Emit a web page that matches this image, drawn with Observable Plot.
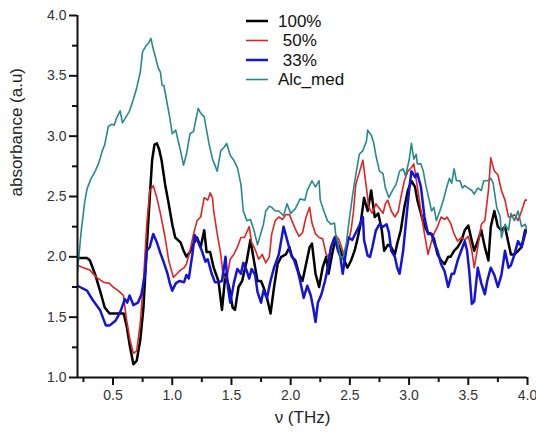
<!DOCTYPE html>
<html>
<head>
<meta charset="utf-8">
<script src="https://cdn.jsdelivr.net/npm/d3@7"></script>
<script src="https://cdn.jsdelivr.net/npm/@observablehq/plot@0.6"></script>
<style>
  html, body { margin: 0; padding: 0; background: #fff; }
  #chart { width: 536px; height: 437px; }
</style>
</head>
<body>
<div id="chart"></div>
<script>
// Absorbance spectra, [frequency (THz), absorbance (a.u.)]
const conc100 = [[0.2,1.99],[0.28,1.99],[0.305,1.97],[0.347,1.86],[0.39,1.72],[0.43,1.58],[0.47,1.53],[0.52,1.53],[0.56,1.53],[0.59,1.53],[0.616,1.42],[0.644,1.25],[0.672,1.11],[0.70,1.14],[0.73,1.31],[0.757,1.58],[0.785,2.08],[0.81,2.49],[0.83,2.80],[0.85,2.93],[0.87,2.94],[0.89,2.89],[0.91,2.80],[0.94,2.60],[0.97,2.44],[1.0,2.27],[1.025,2.16],[1.07,2.12],[1.096,2.05],[1.12,2.0],[1.15,2.04],[1.18,2.11],[1.21,2.16],[1.24,2.08],[1.27,2.22],[1.29,2.04],[1.32,2.04],[1.35,1.91],[1.39,1.80],[1.42,1.56],[1.45,1.86],[1.48,1.75],[1.51,1.58],[1.53,1.56],[1.56,1.75],[1.59,1.80],[1.63,1.97],[1.66,2.14],[1.69,1.97],[1.72,1.80],[1.75,1.80],[1.77,1.75],[1.80,1.66],[1.83,1.53],[1.86,1.75],[1.89,1.94],[1.92,2.0],[1.96,2.02],[1.99,2.08],[2.01,2.0],[2.04,1.97],[2.07,1.86],[2.10,1.80],[2.13,1.94],[2.16,2.08],[2.18,2.11],[2.21,1.86],[2.24,1.75],[2.27,1.91],[2.30,2.0],[2.32,1.86],[2.35,2.02],[2.38,2.16],[2.41,2.08],[2.44,2.0],[2.48,1.91],[2.51,1.97],[2.54,2.05],[2.56,2.13],[2.59,2.27],[2.62,2.49],[2.65,2.38],[2.68,2.55],[2.71,2.33],[2.74,2.36],[2.77,2.22],[2.79,2.05],[2.82,2.10],[2.85,2.08],[2.88,2.02],[2.90,2.11],[2.93,2.22],[2.96,2.41],[2.99,2.55],[3.02,2.63],[3.05,2.58],[3.07,2.47],[3.10,2.36],[3.13,2.25],[3.16,2.20],[3.19,2.19],[3.21,2.15],[3.24,2.02],[3.27,1.97],[3.30,1.94],[3.33,2.0],[3.35,2.0],[3.38,2.05],[3.41,2.08],[3.44,2.13],[3.47,2.22],[3.50,2.26],[3.53,2.13],[3.55,2.05],[3.58,2.13],[3.61,2.22],[3.64,2.08],[3.67,1.97],[3.69,2.25],[3.72,2.38],[3.75,2.25],[3.78,2.22],[3.81,2.25],[3.84,2.11],[3.86,2.02],[3.89,2.02],[3.92,2.05],[3.95,2.08],[3.98,2.22],[4.0,2.22]];

const conc50 = [[0.2,1.93],[0.25,1.91],[0.305,1.89],[0.36,1.83],[0.42,1.79],[0.47,1.78],[0.50,1.75],[0.544,1.72],[0.587,1.68],[0.616,1.47],[0.644,1.31],[0.672,1.20],[0.70,1.22],[0.73,1.45],[0.757,1.80],[0.785,2.27],[0.81,2.55],[0.84,2.59],[0.87,2.49],[0.90,2.36],[0.94,2.16],[0.97,1.97],[1.01,1.83],[1.04,1.86],[1.07,1.89],[1.10,1.91],[1.12,1.94],[1.15,2.05],[1.18,2.19],[1.21,2.30],[1.24,2.33],[1.27,2.49],[1.30,2.47],[1.32,2.53],[1.34,2.49],[1.35,2.38],[1.38,2.19],[1.41,2.02],[1.43,1.84],[1.46,1.82],[1.49,1.98],[1.52,2.02],[1.55,2.08],[1.58,2.16],[1.61,2.16],[1.65,2.25],[1.67,2.12],[1.70,2.06],[1.73,1.98],[1.76,2.02],[1.79,1.95],[1.82,2.0],[1.84,2.19],[1.87,2.30],[1.90,2.33],[1.93,2.31],[1.96,2.35],[1.99,2.35],[2.01,2.30],[2.04,2.23],[2.07,2.17],[2.10,2.20],[2.13,2.33],[2.16,2.41],[2.18,2.28],[2.21,2.19],[2.24,2.16],[2.27,2.15],[2.30,2.02],[2.32,2.0],[2.35,2.10],[2.38,2.18],[2.41,2.14],[2.45,2.02],[2.48,2.10],[2.51,2.22],[2.53,2.37],[2.55,2.60],[2.58,2.70],[2.61,2.80],[2.64,2.57],[2.66,2.41],[2.69,2.36],[2.72,2.44],[2.75,2.40],[2.78,2.36],[2.80,2.44],[2.82,2.47],[2.85,2.38],[2.88,2.33],[2.91,2.38],[2.93,2.49],[2.96,2.63],[2.99,2.71],[3.02,2.74],[3.04,2.77],[3.07,2.58],[3.10,2.38],[3.13,2.19],[3.16,2.02],[3.19,2.13],[3.21,2.19],[3.24,2.25],[3.27,2.33],[3.30,2.31],[3.32,2.33],[3.35,2.28],[3.38,2.19],[3.41,2.13],[3.44,2.16],[3.47,2.14],[3.50,2.17],[3.53,2.05],[3.55,1.91],[3.58,2.08],[3.61,2.27],[3.64,2.30],[3.67,2.55],[3.69,2.82],[3.72,2.71],[3.75,2.68],[3.78,2.55],[3.81,2.47],[3.84,2.33],[3.86,2.33],[3.89,2.35],[3.92,2.30],[3.95,2.38],[3.98,2.47],[4.0,2.47]];

const conc33 = [[0.2,1.76],[0.22,1.75],[0.28,1.72],[0.33,1.64],[0.39,1.56],[0.44,1.43],[0.47,1.43],[0.52,1.47],[0.56,1.54],[0.60,1.65],[0.62,1.62],[0.64,1.68],[0.672,1.60],[0.71,1.62],[0.74,1.69],[0.77,1.86],[0.785,2.05],[0.81,2.08],[0.84,2.19],[0.87,2.12],[0.90,2.03],[0.93,1.95],[0.96,1.86],[0.98,1.78],[1.0,1.72],[1.03,1.78],[1.06,1.80],[1.10,1.79],[1.12,1.85],[1.14,1.82],[1.17,2.02],[1.19,2.18],[1.22,2.12],[1.25,2.05],[1.28,1.96],[1.30,1.98],[1.33,1.87],[1.36,1.79],[1.39,1.79],[1.42,1.80],[1.45,2.0],[1.47,1.75],[1.49,1.62],[1.52,1.78],[1.55,1.90],[1.58,1.86],[1.60,1.95],[1.62,1.91],[1.65,1.82],[1.67,1.90],[1.70,1.85],[1.72,1.71],[1.75,1.62],[1.77,1.72],[1.80,1.66],[1.83,1.80],[1.86,1.91],[1.90,2.02],[1.94,2.25],[1.97,2.14],[2.0,2.03],[2.03,1.97],[2.06,1.88],[2.08,1.80],[2.11,1.66],[2.14,1.76],[2.17,1.68],[2.19,1.58],[2.21,1.46],[2.23,1.62],[2.26,1.69],[2.29,1.80],[2.31,1.89],[2.34,2.08],[2.37,2.16],[2.40,2.05],[2.42,2.0],[2.44,1.86],[2.47,2.06],[2.49,2.16],[2.52,2.14],[2.55,2.20],[2.58,2.26],[2.61,2.33],[2.62,2.14],[2.65,2.01],[2.67,2.0],[2.69,2.08],[2.72,2.22],[2.75,2.27],[2.78,2.25],[2.81,2.27],[2.83,2.20],[2.85,2.05],[2.88,2.0],[2.90,1.91],[2.92,1.86],[2.95,2.05],[2.97,2.25],[3.0,2.55],[3.02,2.71],[3.05,2.66],[3.07,2.69],[3.10,2.58],[3.13,2.33],[3.16,2.19],[3.19,2.19],[3.21,2.12],[3.24,2.05],[3.27,1.94],[3.30,1.88],[3.33,1.75],[3.36,1.86],[3.38,1.86],[3.41,1.97],[3.44,2.05],[3.47,2.13],[3.49,2.05],[3.51,1.86],[3.53,1.61],[3.55,1.63],[3.58,1.91],[3.61,1.78],[3.64,1.69],[3.66,1.80],[3.69,1.91],[3.72,1.85],[3.75,1.75],[3.78,1.85],[3.81,2.05],[3.84,1.91],[3.86,1.93],[3.89,2.02],[3.92,2.13],[3.95,2.08],[3.98,2.19],[4.0,2.25]];

const alcMed = [[0.2,1.88],[0.23,2.20],[0.26,2.45],[0.28,2.56],[0.31,2.64],[0.35,2.71],[0.38,2.78],[0.41,2.88],[0.43,2.93],[0.46,3.08],[0.49,3.10],[0.51,3.09],[0.53,3.15],[0.56,3.21],[0.58,3.11],[0.61,3.16],[0.64,3.21],[0.67,3.30],[0.70,3.40],[0.73,3.53],[0.75,3.70],[0.78,3.75],[0.80,3.77],[0.82,3.81],[0.84,3.72],[0.86,3.65],[0.88,3.57],[0.90,3.53],[0.915,3.42],[0.93,3.42],[0.95,3.31],[0.98,3.15],[1.0,3.02],[1.03,3.05],[1.05,2.96],[1.07,2.88],[1.095,2.76],[1.12,2.85],[1.15,3.02],[1.18,3.04],[1.20,3.14],[1.22,3.23],[1.24,3.19],[1.27,3.16],[1.29,3.05],[1.31,2.94],[1.34,2.81],[1.38,2.71],[1.41,2.88],[1.44,2.91],[1.46,2.94],[1.49,2.84],[1.52,2.80],[1.55,2.74],[1.58,2.60],[1.60,2.38],[1.63,2.30],[1.66,2.31],[1.69,2.22],[1.72,2.10],[1.75,2.20],[1.77,2.27],[1.79,2.38],[1.82,2.42],[1.84,2.41],[1.87,2.38],[1.90,2.38],[1.94,2.34],[1.97,2.44],[2.0,2.36],[2.04,2.40],[2.08,2.48],[2.12,2.47],[2.14,2.55],[2.18,2.63],[2.21,2.58],[2.24,2.63],[2.25,2.47],[2.28,2.38],[2.31,2.30],[2.34,2.27],[2.37,2.28],[2.38,2.19],[2.40,2.11],[2.42,2.0],[2.44,1.99],[2.47,2.11],[2.49,2.27],[2.52,2.49],[2.55,2.68],[2.58,2.85],[2.61,2.88],[2.64,2.96],[2.65,3.05],[2.68,3.01],[2.70,2.95],[2.72,2.84],[2.75,2.71],[2.78,2.69],[2.80,2.57],[2.83,2.49],[2.86,2.55],[2.89,2.60],[2.92,2.71],[2.95,2.73],[2.97,2.67],[3.0,2.80],[3.02,2.94],[3.04,2.81],[3.06,2.85],[3.07,2.77],[3.10,2.77],[3.12,2.71],[3.14,2.60],[3.17,2.47],[3.19,2.38],[3.21,2.41],[3.23,2.30],[3.26,2.38],[3.29,2.47],[3.31,2.55],[3.34,2.65],[3.36,2.61],[3.38,2.73],[3.40,2.63],[3.43,2.63],[3.45,2.57],[3.47,2.59],[3.50,2.57],[3.53,2.55],[3.55,2.52],[3.58,2.57],[3.61,2.55],[3.63,2.63],[3.66,2.63],[3.69,2.65],[3.71,2.61],[3.74,2.41],[3.77,2.33],[3.78,2.16],[3.81,2.27],[3.84,2.22],[3.86,2.36],[3.89,2.30],[3.92,2.38],[3.95,2.25],[3.98,2.27],[4.0,2.22]];

const seriesNames = ["100%", " 50%", " 33%", "Alc_med"];
const seriesColors = ["#000000", "#e02424", "#1414d8", "#27898a"];
const seriesWidths = [2.5, 1.6, 2.5, 1.6];
const seriesData = [conc100, conc50, conc33, alcMed];

const xMajorTicks = [0.5, 1.0, 1.5, 2.0, 2.5, 3.0, 3.5, 4.0];
const xMinorTicks = [0.25, 0.75, 1.25, 1.75, 2.25, 2.75, 3.25, 3.75];
const yMajorTicks = [1.0, 1.5, 2.0, 2.5, 3.0, 3.5, 4.0];
const yMinorTicks = [1.25, 1.75, 2.25, 2.75, 3.25, 3.75];

const xLabel = "ν (THz)";
const yLabel = "absorbance (a.u)";

const font = "'Liberation Sans', Arial, sans-serif";

const lines = seriesData.map((data, i) =>
  Plot.line(data, {
    x: d => d[0], y: d => d[1],
    stroke: seriesColors[i], strokeWidth: seriesWidths[i],
    strokeLinejoin: "round", clip: true
  })
);

const chart = Plot.plot({
  width: 536,
  height: 437,
  marginLeft: 77,
  marginRight: 9,
  marginTop: 15,
  marginBottom: 60,
  style: { fontFamily: font, fontSize: "14px", color: "#333", background: "#fff" },
  x: { domain: [0.2, 4.0] },
  y: { domain: [1.0, 4.0] },
  marks: [
    ...lines,
    Plot.axisX({ ticks: xMajorTicks, tickSize: 8, tickPadding: 5, strokeWidth: 2, stroke: "#111", tickFormat: d => d.toFixed(1), label: null }),
    Plot.axisX({ ticks: xMinorTicks, tickSize: 5, strokeWidth: 2, stroke: "#111", tickFormat: () => "", label: null }),
    Plot.axisY({ ticks: yMajorTicks, tickSize: 8, tickPadding: 3, strokeWidth: 2, stroke: "#111", tickFormat: d => d.toFixed(1), label: null }),
    Plot.axisY({ ticks: yMinorTicks, tickSize: 5, strokeWidth: 2, stroke: "#111", tickFormat: () => "", label: null }),
    Plot.ruleX([0.2], { stroke: "#111", strokeWidth: 2 }),
    Plot.ruleY([1.0], { stroke: "#111", strokeWidth: 2 }),
    Plot.text([yLabel], { frameAnchor: "left", rotate: -90, dx: -61, fontSize: 17, fill: "#222" }),
    Plot.text([xLabel], { frameAnchor: "bottom", dy: 45, fontSize: 17, fill: "#222" })
  ]
});

document.getElementById("chart").appendChild(chart);

// Legend block inside the plot area, near the top
const svg = d3.select(chart);
const legend = svg.append("g")
  .attr("font-family", font)
  .attr("font-size", 17)
  .attr("text-anchor", "start");
const rowY = [21, 40.5, 60, 79.5];
seriesNames.forEach((name, i) => {
  const g = legend.append("g").attr("transform", `translate(0,${rowY[i]})`);
  g.append("line").attr("x1", 246).attr("x2", 268).attr("y1", 0).attr("y2", 0)
    .attr("stroke", seriesColors[i]).attr("stroke-width", seriesWidths[i]);
  g.append("text").attr("x", 278).attr("y", 0).attr("dy", "0.35em")
    .attr("text-anchor", "start")
    .style("white-space", "pre").attr("fill", "#111").text(name);
});
</script>
</body>
</html>
